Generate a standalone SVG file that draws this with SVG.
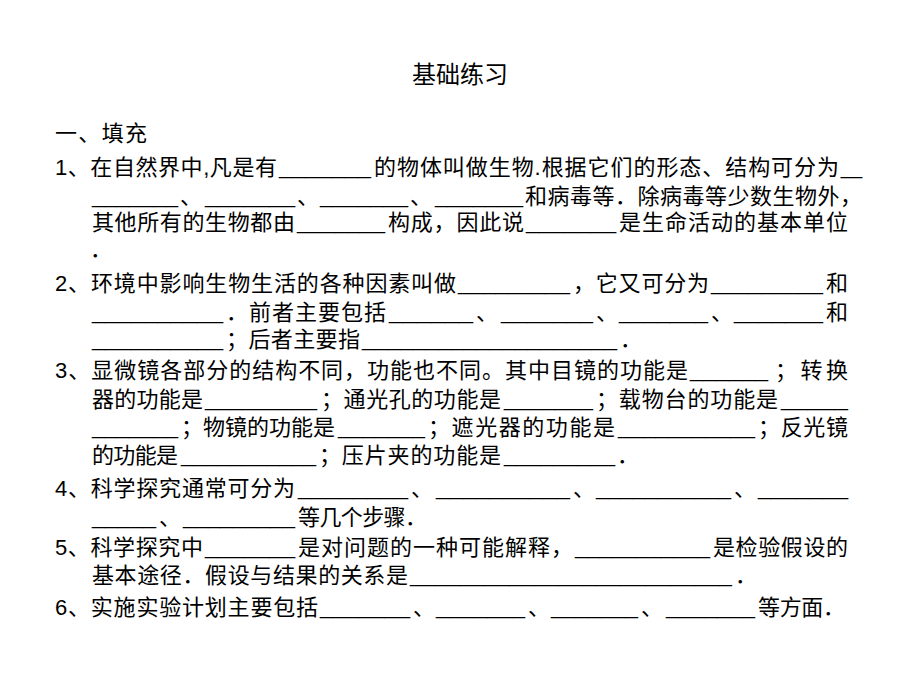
<svg xmlns="http://www.w3.org/2000/svg" width="920" height="690" viewBox="0 0 920 690">
<style>
text{font-family:"Liberation Sans","Noto Sans CJK SC",sans-serif;font-size:22px;fill:#000}
.title{font-size:24px}
</style>
<rect width="920" height="690" fill="#fff"/>
<g id="title"><text class="title" x="460" y="83" text-anchor="middle">基础练习</text></g>
<g id="heading"><text x="55" y="141" textLength="92" lengthAdjust="spacing">一、填充</text></g>
<g id="q1">
<text y="175"><tspan x="55" textLength="222" lengthAdjust="spacing">1、在自然界中,凡是有</tspan><tspan x="279" dy="-1" textLength="92" lengthAdjust="spacingAndGlyphs">_______</tspan><tspan x="374" dy="1" textLength="465" lengthAdjust="spacing">的物体叫做生物.根据它们的形态、结构可分为</tspan><tspan x="841" dy="-1" textLength="21" lengthAdjust="spacingAndGlyphs">_</tspan></text>
<text y="204"><tspan x="92" dy="-1" textLength="86" lengthAdjust="spacingAndGlyphs">_______</tspan><tspan x="180" dy="1">、</tspan><tspan x="205" dy="-1" textLength="90" lengthAdjust="spacingAndGlyphs">_______</tspan><tspan x="297" dy="1">、</tspan><tspan x="320" dy="-1" textLength="88" lengthAdjust="spacingAndGlyphs">_______</tspan><tspan x="410" dy="1">、</tspan><tspan x="435" dy="-1" textLength="88" lengthAdjust="spacingAndGlyphs">_______</tspan><tspan x="525" dy="1" textLength="337" lengthAdjust="spacing">和病毒等．除病毒等少数生物外，</tspan></text>
<text y="230"><tspan x="92" textLength="203" lengthAdjust="spacing">其他所有的生物都由</tspan><tspan x="297" dy="-1" textLength="88" lengthAdjust="spacingAndGlyphs">_______</tspan><tspan x="388" dy="1" textLength="136" lengthAdjust="spacing">构成，因此说</tspan><tspan x="526" dy="-1" textLength="90" lengthAdjust="spacingAndGlyphs">_______</tspan><tspan x="619" dy="1" textLength="229" lengthAdjust="spacing">是生命活动的基本单位</tspan></text>
<text x="90" y="257">．</text>
</g>
<g id="q2">
<text y="291"><tspan x="55" textLength="401" lengthAdjust="spacing">2、环境中影响生物生活的各种因素叫做</tspan><tspan x="458" dy="-1" textLength="112" lengthAdjust="spacingAndGlyphs">_________</tspan><tspan x="573" dy="1" textLength="136" lengthAdjust="spacing">，它又可分为</tspan><tspan x="711" dy="-1" textLength="112" lengthAdjust="spacingAndGlyphs">_________</tspan><tspan x="826" dy="1">和</tspan></text>
<text y="320"><tspan x="92" dy="-1" textLength="131" lengthAdjust="spacingAndGlyphs">__________</tspan><tspan x="226" dy="1" textLength="160" lengthAdjust="spacing">．前者主要包括</tspan><tspan x="389" dy="-1" textLength="84" lengthAdjust="spacingAndGlyphs">______</tspan><tspan x="476" dy="1">、</tspan><tspan x="501" dy="-1" textLength="92" lengthAdjust="spacingAndGlyphs">_______</tspan><tspan x="596" dy="1">、</tspan><tspan x="619" dy="-1" textLength="89" lengthAdjust="spacingAndGlyphs">_______</tspan><tspan x="711" dy="1">、</tspan><tspan x="734" dy="-1" textLength="89" lengthAdjust="spacingAndGlyphs">_______</tspan><tspan x="826" dy="1">和</tspan></text>
<text y="347"><tspan x="92" dy="-1" textLength="131" lengthAdjust="spacingAndGlyphs">__________</tspan><tspan x="226" dy="1" textLength="134" lengthAdjust="spacing">；后者主要指</tspan><tspan x="362" dy="-1" textLength="255" lengthAdjust="spacingAndGlyphs">____________________</tspan><tspan x="620" dy="1">．</tspan></text>
</g>
<g id="q3">
<text y="378"><tspan x="55" textLength="633" lengthAdjust="spacing">3、显微镜各部分的结构不同，功能也不同。其中目镜的功能是</tspan><tspan x="690" dy="-1" textLength="78" lengthAdjust="spacingAndGlyphs">______</tspan><tspan x="775" dy="1" textLength="73" lengthAdjust="spacing">；转换</tspan></text>
<text y="407"><tspan x="92" textLength="111" lengthAdjust="spacing">器的功能是</tspan><tspan x="205" dy="-1" textLength="112" lengthAdjust="spacingAndGlyphs">_________</tspan><tspan x="321" dy="1" textLength="180" lengthAdjust="spacing">；通光孔的功能是</tspan><tspan x="504" dy="-1" textLength="89" lengthAdjust="spacingAndGlyphs">_______</tspan><tspan x="596" dy="1" textLength="182" lengthAdjust="spacing">；载物台的功能是</tspan><tspan x="781" dy="-1" textLength="67" lengthAdjust="spacingAndGlyphs">_____</tspan></text>
<text y="435"><tspan x="92" dy="-1" textLength="86" lengthAdjust="spacingAndGlyphs">_______</tspan><tspan x="181" dy="1" textLength="154" lengthAdjust="spacing">；物镜的功能是</tspan><tspan x="338" dy="-1" textLength="87" lengthAdjust="spacingAndGlyphs">_______</tspan><tspan x="428" dy="1" textLength="187" lengthAdjust="spacing">；遮光器的功能是</tspan><tspan x="618" dy="-1" textLength="137" lengthAdjust="spacingAndGlyphs">___________</tspan><tspan x="758" dy="1" textLength="90" lengthAdjust="spacing">；反光镜</tspan></text>
<text y="463"><tspan x="92" textLength="86" lengthAdjust="spacing">的功能是</tspan><tspan x="181" dy="-1" textLength="135" lengthAdjust="spacingAndGlyphs">___________</tspan><tspan x="319" dy="1" textLength="182" lengthAdjust="spacing">；压片夹的功能是</tspan><tspan x="504" dy="-1" textLength="111" lengthAdjust="spacingAndGlyphs">_________</tspan><tspan x="617" dy="1">．</tspan></text>
</g>
<g id="q4">
<text y="496"><tspan x="55" textLength="240" lengthAdjust="spacing">4、科学探究通常可分为</tspan><tspan x="298" dy="-1" textLength="110" lengthAdjust="spacingAndGlyphs">________</tspan><tspan x="411" dy="1">、</tspan><tspan x="436" dy="-1" textLength="134" lengthAdjust="spacingAndGlyphs">__________</tspan><tspan x="573" dy="1">、</tspan><tspan x="596" dy="-1" textLength="135" lengthAdjust="spacingAndGlyphs">___________</tspan><tspan x="734" dy="1">、</tspan><tspan x="758" dy="-1" textLength="90" lengthAdjust="spacingAndGlyphs">_______</tspan></text>
<text y="525"><tspan x="92" dy="-1" textLength="64" lengthAdjust="spacingAndGlyphs">_____</tspan><tspan x="159" dy="1">、</tspan><tspan x="183" dy="-1" textLength="112" lengthAdjust="spacingAndGlyphs">_________</tspan><tspan x="298" dy="1" textLength="129" lengthAdjust="spacing">等几个步骤．</tspan></text>
</g>
<g id="q5">
<text y="555"><tspan x="55" textLength="148" lengthAdjust="spacing">5、科学探究中</tspan><tspan x="205" dy="-1" textLength="90" lengthAdjust="spacingAndGlyphs">_______</tspan><tspan x="298" dy="1" textLength="275" lengthAdjust="spacing">是对问题的一种可能解释，</tspan><tspan x="575" dy="-1" textLength="135" lengthAdjust="spacingAndGlyphs">___________</tspan><tspan x="713" dy="1" textLength="135" lengthAdjust="spacing">是检验假设的</tspan></text>
<text y="583"><tspan x="92" textLength="316" lengthAdjust="spacing">基本途径．假设与结果的关系是</tspan><tspan x="410" dy="-1" textLength="322" lengthAdjust="spacingAndGlyphs">__________________________</tspan><tspan x="735" dy="1">．</tspan></text>
</g>
<g id="q6">
<text y="615"><tspan x="55" textLength="263" lengthAdjust="spacing">6、实施实验计划主要包括</tspan><tspan x="320" dy="-1" textLength="90" lengthAdjust="spacingAndGlyphs">_______</tspan><tspan x="413" dy="1">、</tspan><tspan x="436" dy="-1" textLength="89" lengthAdjust="spacingAndGlyphs">_______</tspan><tspan x="528" dy="1">、</tspan><tspan x="551" dy="-1" textLength="87" lengthAdjust="spacingAndGlyphs">_______</tspan><tspan x="641" dy="1">、</tspan><tspan x="666" dy="-1" textLength="89" lengthAdjust="spacingAndGlyphs">_______</tspan><tspan x="758" dy="1" textLength="87" lengthAdjust="spacing">等方面．</tspan></text>
</g>
</svg>
